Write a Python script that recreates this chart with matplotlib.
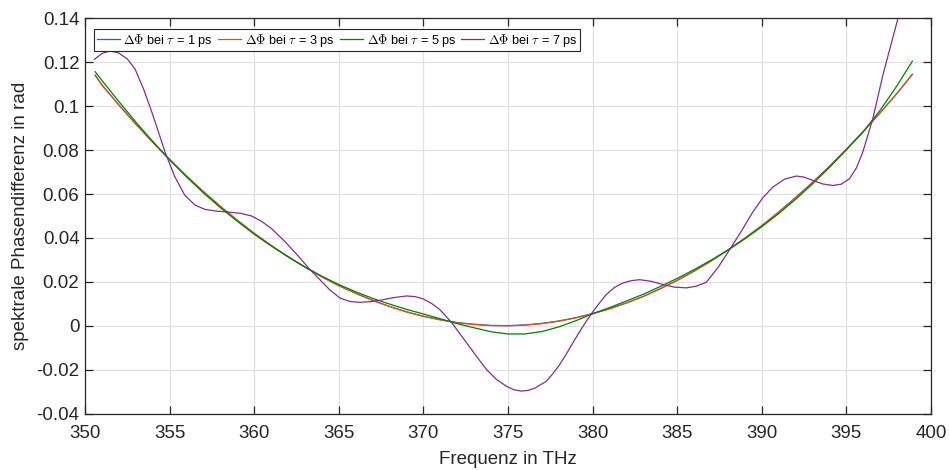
import matplotlib
matplotlib.use("Agg")
import matplotlib.pyplot as plt
from matplotlib.ticker import FuncFormatter

plt.rcParams["font.family"] = ["Liberation Sans", "DejaVu Sans"]
plt.rcParams["mathtext.fontset"] = "cm"
plt.rcParams["axes.unicode_minus"] = False

# Frequenzachse (THz) fuer die glatten Kurven
freq = [350.6, 351, 352, 353, 354, 355, 356, 357, 358, 359, 360, 361, 362, 363,
        364, 365, 366, 367, 368, 369, 370, 371, 372, 373, 374, 375, 376, 377,
        378, 379, 380, 381, 382, 383, 384, 385, 386, 387, 388, 389, 390, 391,
        392, 393, 394, 395, 396, 397, 398, 398.9]

# tau = 1 ps
phi_1 = [0.1142, 0.1097, 0.1006, 0.0919, 0.0836, 0.0757, 0.0682, 0.0611, 0.0544,
         0.0481, 0.0421, 0.0366, 0.0315, 0.0267, 0.0223, 0.0183, 0.0148, 0.0116,
         0.0088, 0.0064, 0.0044, 0.0028, 0.0015, 0.0007, 0.0002, 0.0001, 0.0004,
         0.0011, 0.0022, 0.0037, 0.0056, 0.0078, 0.0104, 0.0134, 0.0169, 0.0207,
         0.0249, 0.0295, 0.0345, 0.0399, 0.0456, 0.0518, 0.0584, 0.0653, 0.0726,
         0.0804, 0.0885, 0.0970, 0.1059, 0.1145]
# tau = 3 ps
phi_3 = [0.1140, 0.1095, 0.1005, 0.0918, 0.0836, 0.0757, 0.0682, 0.0611, 0.0544,
         0.0481, 0.0421, 0.0366, 0.0315, 0.0267, 0.0223, 0.0183, 0.0148, 0.0116,
         0.0088, 0.0063, 0.0043, 0.0027, 0.0014, 0.0006, 0.0001, 0.0000, 0.0003,
         0.0010, 0.0021, 0.0036, 0.0055, 0.0077, 0.0104, 0.0134, 0.0169, 0.0207,
         0.0249, 0.0295, 0.0345, 0.0399, 0.0456, 0.0518, 0.0584, 0.0653, 0.0726,
         0.0804, 0.0885, 0.0970, 0.1059, 0.1145]
# tau = 5 ps
phi_5 = [0.1157, 0.1117, 0.1021, 0.0928, 0.0840, 0.0756, 0.0678, 0.0605, 0.0538,
         0.0476, 0.0417, 0.0364, 0.0314, 0.0268, 0.0226, 0.0188, 0.0155, 0.0125,
         0.0099, 0.0075, 0.0054, 0.0032, 0.0010, -0.0009, -0.0027, -0.0037,
         -0.0037, -0.0026, -0.0005, 0.0023, 0.0055, 0.0083, 0.0113, 0.0144,
         0.0179, 0.0216, 0.0256, 0.0299, 0.0345, 0.0396, 0.0451, 0.0511, 0.0576,
         0.0646, 0.0721, 0.0801, 0.0884, 0.0982, 0.1094, 0.1205]

# tau = 7 ps (eigene, dichtere Stuetzstellen)
freq_7 = [350.55, 351.0, 351.45, 351.95, 352.5, 352.95, 353.45, 353.94, 354.35,
          354.73, 355.3, 355.9, 356.5, 357.09, 357.8, 358.47, 359.2, 359.85,
          360.45, 361.03, 361.8, 362.6, 363.25, 363.88, 364.45, 365.06, 365.65,
          366.24, 366.85, 367.42, 368.2, 369.0, 369.5, 369.98, 370.5, 370.97,
          371.66, 372.1, 372.55, 373.15, 373.73, 374.3, 374.91, 375.35, 375.79,
          376.2, 376.6, 377.27, 377.65, 378.06, 378.45, 378.84, 379.23, 379.63,
          380.02, 380.42, 380.8, 381.3, 381.8, 382.3, 382.78, 383.45, 384.16,
          384.85, 385.54, 386.1, 386.72, 387.4, 388.1, 388.8, 389.47, 390.06,
          390.66, 391.35, 392.04, 392.5, 393.02, 393.6, 394.2, 394.7, 395.19,
          395.6, 395.97, 396.56, 397.15, 397.6, 398.04, 398.5, 398.9]
phi_7 = [0.1213, 0.1240, 0.1251, 0.1244, 0.1215, 0.1170, 0.1080, 0.0975, 0.0880,
         0.0791, 0.0680, 0.0594, 0.0550, 0.0530, 0.0522, 0.0518, 0.0512, 0.0500,
         0.0475, 0.0442, 0.0385, 0.0318, 0.0260, 0.0210, 0.0165, 0.0127, 0.0111,
         0.0107, 0.0110, 0.0116, 0.0128, 0.0136, 0.0133, 0.0123, 0.0101, 0.0074,
         0.0016, -0.0030, -0.0077, -0.0140, -0.0199, -0.0243, -0.0275, -0.0291,
         -0.0297, -0.0294, -0.0283, -0.0252, -0.0218, -0.0176, -0.0128, -0.0077,
         -0.0027, 0.0021, 0.0065, 0.0105, 0.0142, 0.0175, 0.0195, 0.0206, 0.0210,
         0.0203, 0.0188, 0.0176, 0.0173, 0.0180, 0.0198, 0.0264, 0.0347, 0.0432,
         0.0518, 0.0583, 0.0632, 0.0668, 0.0682, 0.0677, 0.0662, 0.0646, 0.0639,
         0.0645, 0.0670, 0.0720, 0.0791, 0.0942, 0.1139, 0.1270, 0.1397, 0.1530,
         0.1660]

labels = [r"$\Delta\Phi$ bei $\tau$ = 1 ps", r"$\Delta\Phi$ bei $\tau$ = 3 ps",
          r"$\Delta\Phi$ bei $\tau$ = 5 ps", r"$\Delta\Phi$ bei $\tau$ = 7 ps"]
colors = ["#0072BD", "#D95319", "#008000", "#7E2F8E"]

fig = plt.figure(figsize=(9.49, 4.70), dpi=100)
ax = fig.add_axes([0.0896, 0.1198, 0.8914, 0.8412])

ax.plot(freq, phi_1, color=colors[0], lw=0.9, label=labels[0])
ax.plot(freq, phi_3, color=colors[1], lw=0.9, label=labels[1])
ax.plot(freq, phi_5, color=colors[2], lw=0.9, label=labels[2])
ax.plot(freq_7, phi_7, color=colors[3], lw=0.9, label=labels[3])

ax.set_xlim(350, 400)
ax.set_ylim(-0.04, 0.14)
ax.set_xticks(range(350, 401, 5))
ax.set_yticks([-0.04 + 0.02 * i for i in range(10)])
ax.yaxis.set_major_formatter(FuncFormatter(lambda v, p: "%g" % round(v, 4)))

ax.grid(True, color="#e1e1e1", lw=0.9)
ax.set_axisbelow(True)
for s in ax.spines.values():
    s.set_color("#262626")
    s.set_linewidth(0.9)
ax.tick_params(direction="in", length=6, width=0.9, colors="#262626",
               labelsize=13.5, top=True, right=True)
ax.tick_params(axis="x", pad=8.5)
ax.tick_params(axis="y", pad=4)

ax.set_xlabel("Frequenz in THz", fontsize=13.5, color="#262626", labelpad=6)
ax.set_ylabel("spektrale Phasendifferenz in rad", fontsize=13.5, color="#262626", labelpad=5)

leg = ax.legend(loc="upper left", bbox_to_anchor=(0.0106, 0.973), borderaxespad=0,
                ncol=4, fontsize=9.2, handlelength=1.8, handletextpad=0.3,
                columnspacing=0.4, borderpad=0.2, fancybox=False, framealpha=1)
leg.get_frame().set_edgecolor("#262626")
leg.get_frame().set_linewidth(0.8)

fig.savefig("out.png", dpi=100)
